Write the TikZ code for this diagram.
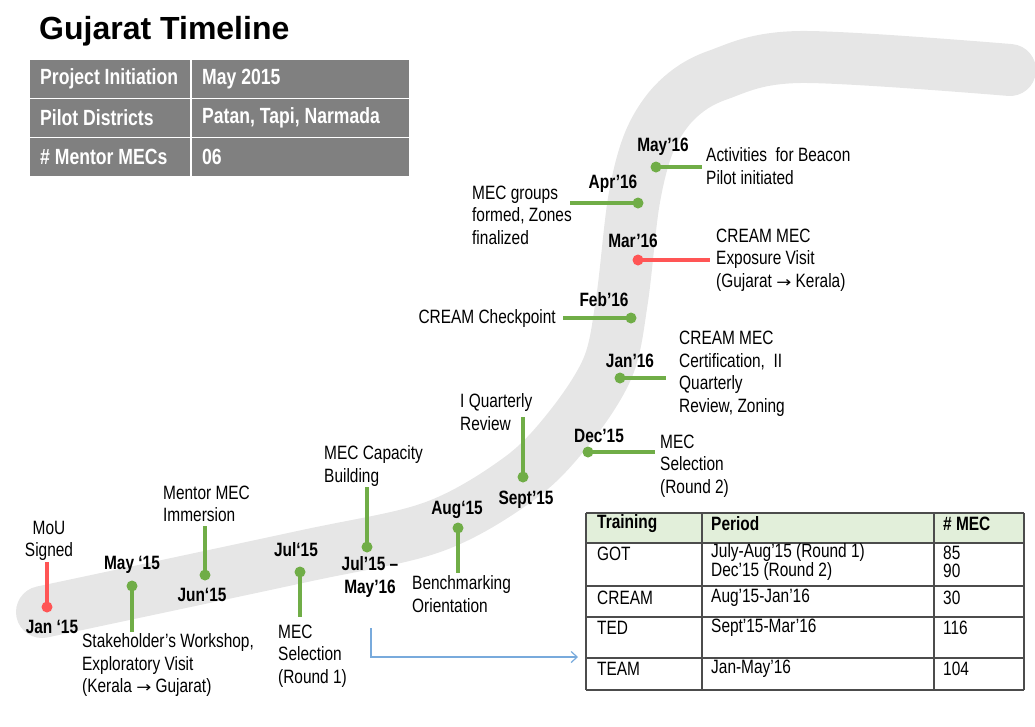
\documentclass[tikz,border=0pt]{standalone}
\usepackage{fontspec}
\setmainfont{Liberation Sans}[FakeStretch=0.8]
\newfontfamily\headfont{Liberation Sans}
\newfontfamily\arrfont{DejaVu Sans}[FakeStretch=1.2]
\usetikzlibrary{arrows.meta}

\definecolor{evgreen}{RGB}{112,173,71}
\definecolor{evred}{RGB}{255,85,85}
\definecolor{bandgray}{RGB}{230,230,230}
\definecolor{boxgray}{RGB}{128,128,128}
\definecolor{hdgreen}{RGB}{226,239,218}
\definecolor{lnblue}{RGB}{120,170,220}
\newcommand\txt{\fontsize{19.3}{22.5}\selectfont}
\newcommand\boxtxt{\fontsize{22}{25}\selectfont\bfseries}
\newcommand\arr{ {\arrfont\fontsize{15}{15}\selectfont →} }

\begin{document}
\begin{tikzpicture}[x=1pt,y=-1pt,
	dot/.style={circle,fill=#1,inner sep=0pt,minimum size=11pt},
	stem/.style={line width=4pt,draw=#1},
	date/.style={font=\txt\bfseries,inner sep=0pt,align=center},
	desc/.style={font=\txt,inner sep=0pt,align=left},
	cell/.style={font=\txt,inner sep=0pt,anchor=west,align=left},
	rule/.style={draw=black!70,line width=1.3pt}]
				\useasboundingbox (0,0) rectangle (1035,726);

				% the grey band
				\draw[bandgray,line width=52pt,line cap=round] plot[smooth,tension=0.55] coordinates
					{(42,612) (300,557) (433,527) (520,478) (570,427) (608,367) (622,300) (634,200) (650,140) (677,100) (718,75) (800,57) (1010,70)};

				% title and facts
				\node[font=\headfont\fontsize{32}{36}\selectfont\bfseries,anchor=west,inner sep=0pt] (title) at (39,31) {Gujarat Timeline};
				\fill[boxgray] (30,60) rectangle (409,176);
				\draw[white,line width=1.5pt] (30,98.5) -- (409,98.5) (30,137.5) -- (409,137.5) (191,60) -- (191,176);
				\node[cell,font=\boxtxt,text=white] (pi) at (40,79) {Project Initiation};
				\node[cell,font=\boxtxt,text=white] (piv) at (202,79) {May 2015};
				\node[cell,font=\boxtxt,text=white] (pd) at (40,118) {Pilot Districts};
				\node[cell,font=\boxtxt,text=white] (pdv) at (202,118) {Patan, Tapi, Narmada};
				\node[cell,font=\boxtxt,text=white] (mm) at (40,157) {\# Mentor MECs};
				\node[cell,font=\boxtxt,text=white] (mmv) at (202,157) {06};

				% Jan '15
				\node[dot=evred] (jan15) at (47,607) {};
				\coordinate (jan15s) at (47,562);
				\draw[stem=evred] (jan15.center) -- (jan15s);
				\node[date] (jan15d) at (52,627) {Jan ‘15};
				\node[desc,align=center] (jan15t) at (49,541) {MoU\\Signed};

				% May '15
				\node[dot=evgreen] (may15) at (132,586) {};
				\coordinate (may15s) at (132,632);
				\draw[stem=evgreen] (may15.center) -- (may15s);
				\node[date] (may15d) at (132,565) {May ‘15};
				\node[desc,anchor=west] (may15t) at (82,665) {Stakeholder’s Workshop,\\Exploratory Visit\\(Kerala\arr Gujarat)};

				% Jun '15
				\node[dot=evgreen] (jun15) at (205,575) {};
				\coordinate (jun15s) at (205,526);
				\draw[stem=evgreen] (jun15.center) -- (jun15s);
				\node[date] (jun15d) at (202,595) {Jun‘15};
				\node[desc,anchor=west] (jun15t) at (163,504) {Mentor MEC\\Immersion};

				% Jul '15
				\node[dot=evgreen] (jul15) at (300,572) {};
				\coordinate (jul15s) at (300,617);
				\draw[stem=evgreen] (jul15.center) -- (jul15s);
				\node[date] (jul15d) at (296,550) {Jul‘15};
				\node[desc,anchor=west] (jul15t) at (278,656) {MEC\\Selection\\(Round 1)};

				% Jul '15 - May '16
				\node[dot=evgreen] (cap) at (367,547) {};
				\coordinate (caps) at (367,487);
				\draw[stem=evgreen] (cap.center) -- (caps);
				\node[date] (capd) at (370,577) {Jul’15 –\\May’16};
				\node[desc,anchor=west] (capt) at (324,466) {MEC Capacity\\Building};

				% Aug '15
				\node[dot=evgreen] (aug15) at (458,528) {};
				\coordinate (aug15s) at (458,573);
				\draw[stem=evgreen] (aug15.center) -- (aug15s);
				\node[date] (aug15d) at (457,510) {Aug‘15};
				\node[desc,anchor=west] (aug15t) at (412,594) {Benchmarking\\Orientation};

				% Sept '15
				\node[dot=evgreen] (sep15) at (523,477) {};
				\coordinate (sep15s) at (523,417);
				\draw[stem=evgreen] (sep15.center) -- (sep15s);
				\node[date] (sep15d) at (526,500) {Sept’15};
				\node[desc,anchor=west] (sep15t) at (460,412) {I Quarterly\\Review};

				% Dec '15
				\node[dot=evgreen] (dec15) at (588,452) {};
				\coordinate (dec15s) at (655,452);
				\draw[stem=evgreen] (dec15.center) -- (dec15s);
				\node[date] (dec15d) at (599,436) {Dec’15};
				\node[desc,anchor=west] (dec15t) at (660,466) {MEC\\Selection\\(Round 2)};

				% Jan '16
				\node[dot=evgreen] (jan16) at (620,378) {};
				\coordinate (jan16s) at (666,378);
				\draw[stem=evgreen] (jan16.center) -- (jan16s);
				\node[date] (jan16d) at (630,361) {Jan’16};
				\node[desc,anchor=west] (jan16t) at (679,374) {CREAM MEC\\Certification,~ II\\Quarterly\\Review, Zoning};

				% Feb '16
				\node[dot=evgreen] (feb16) at (631,318) {};
				\coordinate (feb16s) at (563,318);
				\draw[stem=evgreen] (feb16.center) -- (feb16s);
				\node[date] (feb16d) at (604,300) {Feb’16};
				\node[desc,anchor=east] (feb16t) at (556,319) {CREAM Checkpoint};

				% Mar '16
				\node[dot=evred] (mar16) at (638,260) {};
				\coordinate (mar16s) at (710,260);
				\draw[stem=evred] (mar16.center) -- (mar16s);
				\node[date] (mar16d) at (633,241) {Mar’16};
				\node[desc,anchor=west] (mar16t) at (716,260) {CREAM MEC\\Exposure Visit\\(Gujarat\arr Kerala)};

				% Apr '16
				\node[dot=evgreen] (apr16) at (638,203) {};
				\coordinate (apr16s) at (570,203);
				\draw[stem=evgreen] (apr16.center) -- (apr16s);
				\node[date] (apr16d) at (613,184) {Apr’16};
				\node[desc,anchor=west] (apr16t) at (472,215) {MEC groups\\formed, Zones\\finalized};

				% May '16
				\node[dot=evgreen] (may16) at (656,167) {};
				\coordinate (may16s) at (702,167);
				\draw[stem=evgreen] (may16.center) -- (may16s);
				\node[date] (may16d) at (663,147) {May’16};
				\node[desc,anchor=west] (may16t) at (706,166) {Activities~ for Beacon\\Pilot initiated};

				% training table
				\fill[hdgreen] (586,513) rectangle (1024,543);
				\foreach \y in {513,543,586,617,658,690}
					\draw[rule] (586,\y) -- (1024,\y);
				\foreach \x in {586,702,934,1024}
					\draw[rule] (\x,513) -- (\x,690);
				\node[cell,font=\txt\bfseries] (htr) at (597,524) {Training};
				\node[cell,font=\txt\bfseries] (hpe) at (711,524) {Period};
				\node[cell,font=\txt\bfseries] (hno) at (943,524) {\# MEC};
				\node[cell] (got) at (597,554) {GOT};
				\node[cell,font=\fontsize{19.3}{17.5}\selectfont] (gotp) at (711,562) {July-Aug’15 (Round 1)\\Dec’15 (Round 2)};
				\node[cell,font=\fontsize{19.3}{17.5}\selectfont] (gotn) at (943,562) {85\\90};
				\node[cell] (crm) at (597,598) {CREAM};
				\node[cell] (crmp) at (711,598) {Aug’15-Jan’16};
				\node[cell] (crmn) at (943,598) {30};
				\node[cell] (ted) at (597,628) {TED};
				\node[cell] (tedp) at (711,628) {Sept’15-Mar’16};
				\node[cell] (tedn) at (943,628) {116};
				\node[cell] (team) at (597,669) {TEAM};
				\node[cell] (teamp) at (711,669) {Jan-May’16};
				\node[cell] (teamn) at (943,669) {104};

				% link to the table
				\coordinate (lnk) at (371,628);
				\coordinate (tblin) at (578,657);
				\draw[lnblue,line width=1.2pt,-{Straight Barb[length=6pt,width=11pt]}] (lnk) |- (tblin);
			\end{tikzpicture}
\end{document}
